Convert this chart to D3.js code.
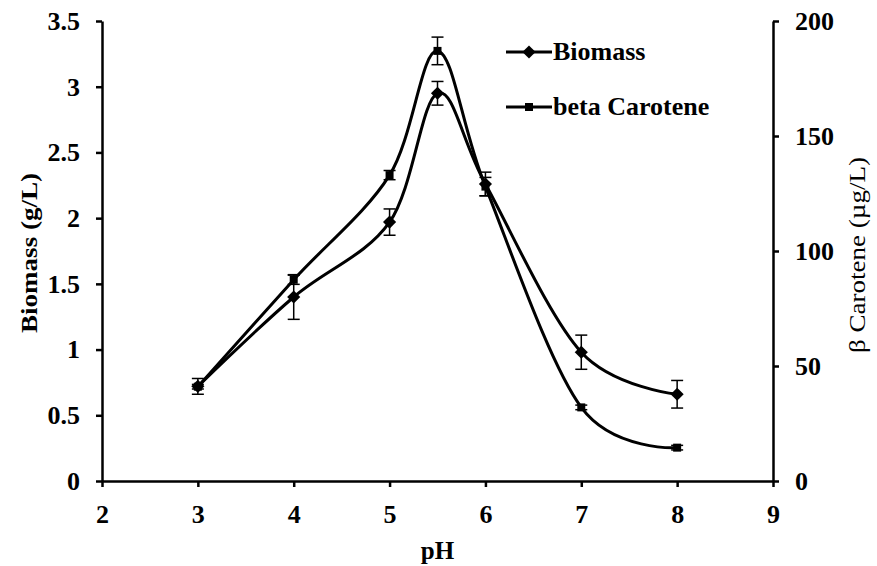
<!DOCTYPE html>
<html lang="en">
<head>
    <meta charset="UTF-8">
    <title>Biomass and beta Carotene vs pH</title>
    <script src="https://d3js.org/d3.v7.min.js"></script>
    <style>
        body { margin: 0; background: white; }
        text { font-family: "Liberation Serif", "Times New Roman", serif; fill: black; }
    </style>
</head>
<body>
<svg id="main" width="877" height="566"></svg>
<script>
    // data
    const phValues = [3, 4, 5, 5.5, 6, 7, 8];
    const biomass = [0.72, 1.40, 1.97, 2.95, 2.26, 0.98, 0.66];
    const biomassErr = [0.06, 0.17, 0.10, 0.09, 0.09, 0.13, 0.105];
    const carotene = [41, 87.5, 133, 187, 128, 32, 14.5];
    const caroteneErr = [1, 2, 2, 6, 4, 1, 1];
    const xTicks = [2, 3, 4, 5, 6, 7, 8, 9];
    const leftTicks = [0, 0.5, 1, 1.5, 2, 2.5, 3, 3.5];
    const rightTicks = [0, 50, 100, 150, 200];

    let svg = d3.select('svg#main');
    let margins = {left: 102, right: 104, top: 21, bottom: 85};
    let W = 877, H = 566;
    let xRng = [margins.left, W - margins.right];
    let yRng = [H - margins.bottom, margins.top];

    let scaleX = d3.scaleLinear().domain([2, 9]).range(xRng);
    let scaleBio = d3.scaleLinear().domain([0, 3.5]).range(yRng);
    let scaleCar = d3.scaleLinear().domain([0, 200]).range(yRng);

    // stretch or squeeze a text to a factor of its own width
    function widen(sel, f) {
        sel.each(function () {
            let w = this.getComputedTextLength();
            d3.select(this).attr('textLength', w * f).attr('lengthAdjust', 'spacingAndGlyphs');
        });
    }

    function styleAxis(g, size) {
        g.select('.domain').attr('stroke', 'black').attr('stroke-width', 2.5);
        g.selectAll('.tick line').attr('stroke', 'black').attr('stroke-width', 2.5);
        g.selectAll('.tick text')
            .style('font-family', '"Liberation Serif", serif')
            .style('font-weight', 'bold')
            .style('font-size', size + 'px')
            .attr('fill', 'black');
    }

    // x axis
    let xAxis = svg.append('g')
        .attr('transform', 'translate(0,' + yRng[0] + ')')
        .call(d3.axisBottom(scaleX).tickValues(xTicks).tickSize(6).tickSizeOuter(0).tickPadding(18).tickFormat(d3.format('d')));
    styleAxis(xAxis, 26);

    // left axis
    let yAxisL = svg.append('g')
        .attr('transform', 'translate(' + xRng[0] + ',0)')
        .call(d3.axisLeft(scaleBio).tickValues(leftTicks).tickSize(6).tickSizeOuter(0).tickPadding(16).tickFormat(d => d));
    styleAxis(yAxisL, 26);

    // right axis
    let yAxisR = svg.append('g')
        .attr('transform', 'translate(' + xRng[1] + ',0)')
        .call(d3.axisRight(scaleCar).tickValues(rightTicks).tickSize(6).tickSizeOuter(0).tickPadding(16).tickFormat(d3.format('d')));
    styleAxis(yAxisR, 26);

    // axis titles
    svg.append('text')
        .attr('transform', 'translate(' + 37 + ',' + 253 + ') rotate(-90)')
        .attr('text-anchor', 'middle')
        .style('font-weight', 'bold')
        .style('font-size', '24px')
        .attr('textLength', 160).attr('lengthAdjust', 'spacingAndGlyphs')
        .text('Biomass (g/L)');
    svg.append('text')
        .attr('transform', 'translate(' + 865 + ',' + 255 + ') rotate(-90)')
        .attr('text-anchor', 'middle')
        .style('font-size', '24px')
        .attr('textLength', 196).attr('lengthAdjust', 'spacingAndGlyphs')
        .text('β Carotene (µg/L)');
    svg.append('text')
        .attr('x', (xRng[0] + xRng[1]) / 2)
        .attr('y', 559)
        .attr('text-anchor', 'middle')
        .style('font-weight', 'bold')
        .style('font-size', '25px')
        .text('pH');

    // series
    let bioData = phValues.map((p, i) => ({x: p, y: biomass[i], e: biomassErr[i]}));
    let carData = phValues.map((p, i) => ({x: p, y: carotene[i], e: caroteneErr[i]}));

    let lineBio = d3.line().curve(d3.curveCatmullRom.alpha(0))
        .x(d => scaleX(d.x)).y(d => scaleBio(d.y));
    let lineCar = d3.line().curve(d3.curveCatmullRom.alpha(0))
        .x(d => scaleX(d.x)).y(d => scaleCar(d.y));

    let fig = svg.append('g');
    fig.append('path').datum(bioData).attr('d', lineBio)
        .style('fill', 'none').style('stroke', 'black').style('stroke-width', '3px');
    fig.append('path').datum(carData).attr('d', lineCar)
        .style('fill', 'none').style('stroke', 'black').style('stroke-width', '3px');

    // error bars
    function errBars(data, yScale) {
        let g = fig.append('g');
        let cap = 6;
        data.forEach(d => {
            let x = scaleX(d.x), y0 = yScale(d.y - d.e), y1 = yScale(d.y + d.e);
            g.append('line').attr('x1', x).attr('x2', x).attr('y1', y0).attr('y2', y1)
                .attr('stroke', 'black').attr('stroke-width', 1.5);
            [y0, y1].forEach(yy => g.append('line').attr('x1', x - cap).attr('x2', x + cap)
                .attr('y1', yy).attr('y2', yy).attr('stroke', 'black').attr('stroke-width', 1.5));
        });
    }
    errBars(bioData, scaleBio);
    errBars(carData, scaleCar);

    // markers
    let diamond = d3.symbol().type(d3.symbolDiamond2).size(110);
    let square = d3.symbol().type(d3.symbolSquare).size(64);
    fig.selectAll('path.bio').data(bioData).enter().append('path')
        .attr('class', 'bio')
        .attr('transform', d => 'translate(' + scaleX(d.x) + ',' + scaleBio(d.y) + ')')
        .attr('d', diamond).style('fill', 'black');
    fig.selectAll('path.car').data(carData).enter().append('path')
        .attr('class', 'car')
        .attr('transform', d => 'translate(' + scaleX(d.x) + ',' + scaleCar(d.y) + ')')
        .attr('d', square).style('fill', 'black');

    // legend
    let legend = svg.append('g');
    let legendItems = [
        {label: 'Biomass', y: 52, sym: diamond},
        {label: 'beta Carotene', y: 107, sym: square}
    ];
    legendItems.forEach(it => {
        legend.append('line').attr('x1', 506).attr('x2', 552).attr('y1', it.y).attr('y2', it.y)
            .attr('stroke', 'black').attr('stroke-width', 3);
        legend.append('path').attr('d', it.sym).attr('transform', 'translate(529,' + it.y + ')')
            .style('fill', 'black');
        let t = legend.append('text').attr('x', 553).attr('y', it.y + 8)
            .style('font-weight', 'bold').style('font-size', '25px')
            .text(it.label);
        widen(t, 1.04);
    });
</script>
</body>
</html>
